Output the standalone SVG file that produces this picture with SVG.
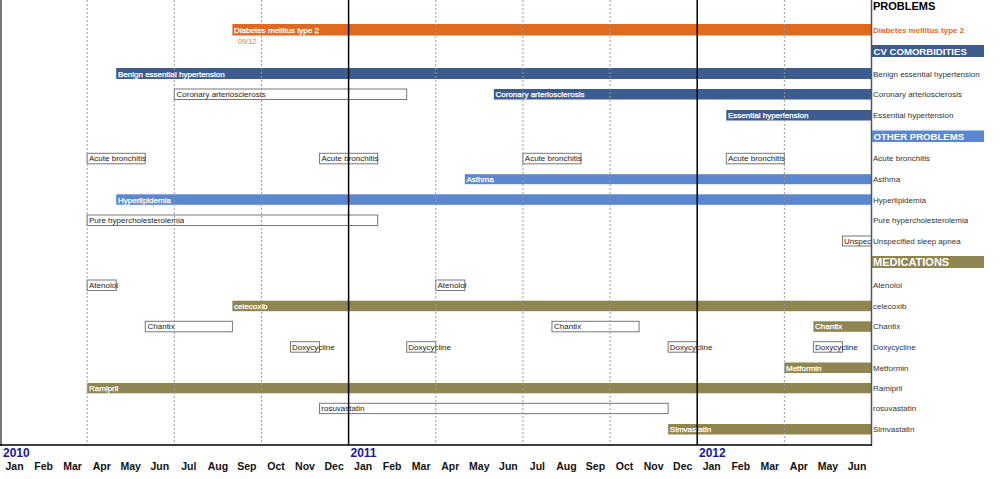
<svg xmlns="http://www.w3.org/2000/svg" width="1000" height="479" viewBox="0 0 1000 479">
<style>
text{font-family:"Liberation Sans",Arial,Helvetica,sans-serif}
.bg{fill:#fff}
.orange{fill:#DF691E}
.dblue{fill:#3C5C90}
.lblue{fill:#5B87D0}
.olive{fill:#8F8550}
.box{fill:#fff;stroke:#777;stroke-width:1}
.bl{font-size:8px;fill:#fff;stroke:#fff;stroke-width:0.25}
.btx{font-size:8px;fill:#222}
.rl{font-size:8px;fill:#333}
.hd{font-size:9.6px;font-weight:bold;fill:#fff}
.hd2{font-size:11px;font-weight:bold;fill:#fff}
.dot{stroke:#9a9a9a;stroke-width:1;stroke-dasharray:2,2}
.solid{stroke:#000;stroke-width:1.5}
.mon{font-size:10.5px;font-weight:bold;fill:#111;text-anchor:middle}
.yr{font-size:12px;font-weight:bold;fill:#1a1a99}
</style>
<rect class="bg" x="0" y="0" width="1000" height="479"/>

<g id="bars">
<g id="diabetes"><rect class="orange" x="232.4" y="24" width="639.1" height="11.5"/><text class="bl" x="234" y="32.5">Diabetes mellitus type 2</text><text x="238" y="43.5" style="font-size:7.3px;fill:#E27B3E">09/12</text></g>
<g id="benign"><rect class="dblue" x="116.2" y="68" width="755.3" height="11"/><text class="bl" x="118" y="76.5">Benign essential hypertension</text></g>
<g id="coronary1"><rect class="box" x="174.3" y="89" width="232.4" height="10.5"/><text class="btx" x="176.5" y="97">Coronary arteriosclerosis</text></g>
<g id="coronary2"><rect class="dblue" x="493.85" y="89" width="377.65" height="10.5"/><text class="bl" x="495.5" y="97">Coronary arteriosclerosis</text></g>
<g id="essential"><rect class="dblue" x="726.25" y="110" width="145.25" height="10.5"/><text class="bl" x="728" y="118">Essential hypertension</text></g>

<g id="acute1"><rect class="box" x="87.15" y="153.3" width="58.1" height="10.5"/><text class="btx" x="89" y="161.3">Acute bronchitis</text></g>
<g id="acute2"><rect class="box" x="319.55" y="153.3" width="58.1" height="10.5"/><text class="btx" x="321.5" y="161.3">Acute bronchitis</text></g>
<g id="acute3"><rect class="box" x="522.9" y="153.3" width="58.1" height="10.5"/><text class="btx" x="524.8" y="161.3">Acute bronchitis</text></g>
<g id="acute4"><rect class="box" x="726.25" y="153.3" width="58.1" height="10.5"/><text class="btx" x="728" y="161.3">Acute bronchitis</text></g>
<g id="asthma"><rect class="lblue" x="464.8" y="174.2" width="406.7" height="10"/><text class="bl" x="466.5" y="182">Asthma</text></g>
<g id="hyperlipidemia"><rect class="lblue" x="116.2" y="194.3" width="755.3" height="10.5"/><text class="bl" x="118" y="202.5">Hyperlipidemia</text></g>
<g id="pure"><rect class="box" x="87.15" y="215" width="290.5" height="10.5"/><text class="btx" x="89" y="223">Pure  hypercholesterolemia</text></g>
<g id="unspec"><rect class="box" x="842.45" y="236" width="29.05" height="10"/><text class="btx" x="844" y="244">Unspec</text></g>

<g id="atenolol1"><rect class="box" x="87.15" y="280" width="29.05" height="10.5"/><text class="btx" x="89" y="288">Atenolol</text></g>
<g id="atenolol2"><rect class="box" x="435.75" y="280" width="29.05" height="10.5"/><text class="btx" x="437.5" y="288">Atenolol</text></g>
<g id="celecoxib"><rect class="olive" x="232.4" y="300.7" width="639.1" height="10.5"/><text class="bl" x="234" y="308.8">celecoxib</text></g>
<g id="chantix1"><rect class="box" x="145.25" y="321.3" width="87.15" height="10.5"/><text class="btx" x="147.5" y="329.3">Chantix</text></g>
<g id="chantix2"><rect class="box" x="551.95" y="321.3" width="87.15" height="10.5"/><text class="btx" x="554" y="329.3">Chantix</text></g>
<g id="chantix3"><rect class="olive" x="813.4" y="321.3" width="58.1" height="10.5"/><text class="bl" x="815" y="329.3">Chantix</text></g>
<g id="doxy1"><rect class="box" x="290.5" y="341.7" width="29.05" height="10.5"/><text class="btx" x="292" y="349.7">Doxycycline</text></g>
<g id="doxy2"><rect class="box" x="406.7" y="341.7" width="29.05" height="10.5"/><text class="btx" x="408.3" y="349.7">Doxycycline</text></g>
<g id="doxy3"><rect class="box" x="668.15" y="341.7" width="29.05" height="10.5"/><text class="btx" x="669.8" y="349.7">Doxycycline</text></g>
<g id="doxy4"><rect class="box" x="813.4" y="341.7" width="29.05" height="10.5"/><text class="btx" x="815" y="349.7">Doxycycline</text></g>
<g id="metformin"><rect class="olive" x="784.35" y="362.5" width="87.15" height="10.5"/><text class="bl" x="786" y="370.5">Metformin</text></g>
<g id="ramipril"><rect class="olive" x="87.15" y="383" width="784.35" height="10.3"/><text class="bl" x="89" y="391">Ramipril</text></g>
<g id="rosuvastatin"><rect class="box" x="319.55" y="403.3" width="348.6" height="10.3"/><text class="btx" x="321.3" y="411.2">rosuvastatin</text></g>
<g id="simvastatin"><rect class="olive" x="668.15" y="424" width="203.35" height="10.5"/><text class="bl" x="669.8" y="432">Simvastatin</text></g>
</g>

<g id="grid">
<line class="dot" x1="87.15" y1="0" x2="87.15" y2="445"/>
<line class="dot" x1="174.3" y1="0" x2="174.3" y2="445"/>
<line class="dot" x1="261.45" y1="0" x2="261.45" y2="445"/>
<line class="dot" x1="435.75" y1="0" x2="435.75" y2="445"/>
<line class="dot" x1="522.9" y1="0" x2="522.9" y2="445"/>
<line class="dot" x1="610.05" y1="0" x2="610.05" y2="445"/>
<line class="dot" x1="784.35" y1="0" x2="784.35" y2="445"/>
<line class="solid" x1="348.6" y1="0" x2="348.6" y2="445"/>
<line class="solid" x1="697.2" y1="0" x2="697.2" y2="445"/>
<line x1="1" y1="0" x2="1" y2="446" stroke="#777" stroke-width="2"/>
<line x1="871.5" y1="0" x2="871.5" y2="446" stroke="#555" stroke-width="1.5"/>
<line x1="0" y1="445" x2="872" y2="445" stroke="#000" stroke-width="1.5"/>
</g>

<g id="legend">
<text x="873" y="9.5" style="font-size:11px;font-weight:bold;fill:#000">PROBLEMS</text>
<text x="873" y="32.5" style="font-size:8px;font-weight:bold;fill:#DF691E">Diabetes mellitus type 2</text>
<rect class="dblue" x="872" y="45" width="112" height="12"/><text class="hd" x="873.5" y="54.8">CV COMORBIDITIES</text>
<text class="rl" x="873" y="76.5">Benign essential hypertension</text>
<text class="rl" x="873" y="97">Coronary arteriosclerosis</text>
<text class="rl" x="873" y="118">Essential hypertension</text>
<rect class="lblue" x="872" y="130.5" width="112" height="11.5"/><text class="hd" x="873.5" y="140">OTHER PROBLEMS</text>
<text class="rl" x="873" y="161.3">Acute bronchitis</text>
<text class="rl" x="873" y="182">Asthma</text>
<text class="rl" x="873" y="202.5">Hyperlipidemia</text>
<text class="rl" x="873" y="223">Pure  hypercholesterolemia</text>
<text class="rl" x="873" y="244">Unspecified sleep apnea</text>
<rect class="olive" x="872" y="256" width="112" height="12"/><text class="hd2" x="873" y="266.3">MEDICATIONS</text>
<text class="rl" x="873" y="288">Atenolol</text>
<text class="rl" x="873" y="308.8">celecoxib</text>
<text class="rl" x="873" y="329.3">Chantix</text>
<text class="rl" x="873" y="349.7">Doxycycline</text>
<text class="rl" x="873" y="370.5">Metformin</text>
<text class="rl" x="873" y="391">Ramipril</text>
<text class="rl" x="873" y="411.2">rosuvastatin</text>
<text class="rl" x="873" y="432">Simvastatin</text>
</g>

<g id="axis">
<text class="yr" x="3" y="456.5">2010</text>
<text class="yr" x="350.5" y="456.5">2011</text>
<text class="yr" x="699" y="456.5">2012</text>
<text class="mon" x="14.5" y="469.5">Jan</text>
<text class="mon" x="43.6" y="469.5">Feb</text>
<text class="mon" x="72.6" y="469.5">Mar</text>
<text class="mon" x="101.7" y="469.5">Apr</text>
<text class="mon" x="130.7" y="469.5">May</text>
<text class="mon" x="159.8" y="469.5">Jun</text>
<text class="mon" x="188.8" y="469.5">Jul</text>
<text class="mon" x="217.9" y="469.5">Aug</text>
<text class="mon" x="246.9" y="469.5">Sep</text>
<text class="mon" x="276" y="469.5">Oct</text>
<text class="mon" x="305" y="469.5">Nov</text>
<text class="mon" x="334.1" y="469.5">Dec</text>
<text class="mon" x="363.1" y="469.5">Jan</text>
<text class="mon" x="392.2" y="469.5">Feb</text>
<text class="mon" x="421.2" y="469.5">Mar</text>
<text class="mon" x="450.3" y="469.5">Apr</text>
<text class="mon" x="479.3" y="469.5">May</text>
<text class="mon" x="508.4" y="469.5">Jun</text>
<text class="mon" x="537.4" y="469.5">Jul</text>
<text class="mon" x="566.5" y="469.5">Aug</text>
<text class="mon" x="595.5" y="469.5">Sep</text>
<text class="mon" x="624.6" y="469.5">Oct</text>
<text class="mon" x="653.6" y="469.5">Nov</text>
<text class="mon" x="682.7" y="469.5">Dec</text>
<text class="mon" x="711.7" y="469.5">Jan</text>
<text class="mon" x="740.8" y="469.5">Feb</text>
<text class="mon" x="769.8" y="469.5">Mar</text>
<text class="mon" x="798.9" y="469.5">Apr</text>
<text class="mon" x="827.9" y="469.5">May</text>
<text class="mon" x="857" y="469.5">Jun</text>
</g>
</svg>
